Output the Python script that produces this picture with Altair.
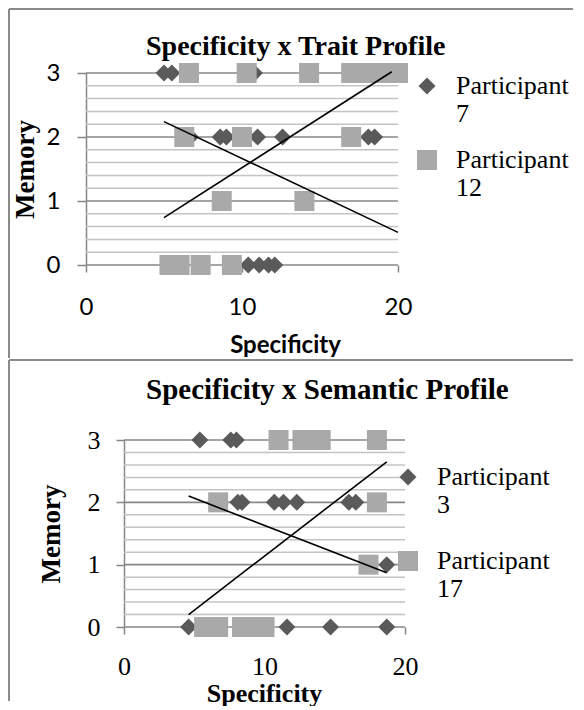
import altair as alt
import pandas as pd

DIAMOND = "#5a5a5a"
SQUARE = "#a9a9a9"
GRID_MAJOR = "#878787"
GRID_MINOR = "#c4c4c4"
BORDER = "#8a8a8a"

# ---------- Panel 1: Specificity x Trait Profile ----------
trait_series = ["Participant 7", "Participant 12"]
trait_p7_x = [5.0, 5.5, 10.8, 6.7, 8.6, 9.0, 11.0, 12.6, 18.1, 18.5, 10.4, 11.1, 11.7, 12.1]
trait_p7_y = [3, 3, 3, 2, 2, 2, 2, 2, 2, 2, 0, 0, 0, 0]
trait_p12_x = [6.6, 10.3, 14.3, 17.0, 18.0, 19.0, 20.0, 6.3, 10.0, 17.0, 8.7, 14.0, 5.35, 6.0, 7.35, 9.35]
trait_p12_y = [3, 3, 3, 3, 3, 3, 3, 2, 2, 2, 1, 1, 0, 0, 0, 0]
trait_trend_a_x = [5.0, 19.6]
trait_trend_a_y = [0.74, 3.02]
trait_trend_b_x = [5.0, 20.0]
trait_trend_b_y = [2.24, 0.51]

# ---------- Panel 2: Specificity x Semantic Profile ----------
sem_series = ["Participant 3", "Participant 17"]
sem_p3_x = [5.4, 7.6, 8.0, 8.1, 8.4, 10.7, 11.35, 12.3, 16.0, 16.5, 18.7, 4.6, 11.6, 14.7, 18.7]
sem_p3_y = [3, 3, 3, 2, 2, 2, 2, 2, 2, 2, 1, 0, 0, 0, 0]
sem_p17_x = [11.0, 12.7, 14.0, 18.0, 6.7, 18.0, 17.4, 5.7, 6.7, 8.4, 9.2, 10.0]
sem_p17_y = [3, 3, 3, 3, 2, 2, 1, 0, 0, 0, 0, 0]
sem_trend_a_x = [4.6, 18.7]
sem_trend_a_y = [0.2, 2.65]
sem_trend_b_x = [4.6, 18.7]
sem_trend_b_y = [2.1, 0.87]

x_ticks = [0, 10, 20]
y_ticks = [0, 1, 2, 3]
grid_major = [0, 1, 2, 3]
grid_minor = [0.2, 0.4, 0.6, 0.8, 1.2, 1.4, 1.6, 1.8, 2.2, 2.4, 2.6, 2.8]


def panel(title, series, ax, ay, bx, by, tax, tay, tbx, tby, cfg):
    pts = pd.DataFrame({
        "x": ax + bx,
        "y": ay + by,
        "series": [series[0]] * len(ax) + [series[1]] * len(bx),
    })
    trend = pd.DataFrame({
        "x": tax + tbx,
        "y": tay + tby,
        "line": ["a"] * len(tax) + ["b"] * len(tbx),
    })
    major = pd.DataFrame({"y": grid_major, "x0": 0, "x1": 20})
    minor = pd.DataFrame({"y": grid_minor, "x0": 0, "x1": 20})

    xs = alt.Scale(domain=cfg["xdom"], nice=False, zero=False)
    ys = alt.Scale(domain=[0, 3], nice=False, zero=False)
    xaxis = alt.Axis(
        values=x_ticks, domain=False, grid=False, ticks=True, tickSize=7,
        tickColor=GRID_MAJOR, tickWidth=1.5, labelFont=cfg["tickfont"],
        labelFontSize=cfg["ticksize"], labelColor="black", labelPadding=cfg["xlabpad"],
        labelFlush=False, format="d",
        title="Specificity", titleFont=cfg["xtitlefont"], titleFontSize=cfg["xtitlesize"],
        titleFontWeight="bold", titleColor="black", titleX=cfg["xtitleX"],
        titleY=cfg["xtitleY"], titleAlign="center", titleBaseline="alphabetic",
    )
    yaxis = alt.Axis(
        values=y_ticks, domain=True, domainColor=GRID_MAJOR, domainWidth=1.5,
        grid=False, ticks=True, tickSize=cfg["ytick"], tickColor=GRID_MAJOR,
        tickWidth=1.5, labelFont=cfg["tickfont"], labelFontSize=cfg["ticksize"],
        labelColor="black", labelPadding=cfg["ylabpad"], labelFlush=False, format="d",
        title="Memory", titleFont="Liberation Serif", titleFontSize=27,
        titleFontWeight="bold", titleColor="black", titleX=cfg["ytitleX"],
        titleY=cfg["ytitleY"], titleAngle=270, titleAlign="center",
        titleBaseline="middle", offset=cfg["yoffset"],
    )

    def X(f):
        return alt.X(f, scale=xs, axis=xaxis)

    def Y(f):
        return alt.Y(f, scale=ys, axis=yaxis)

    legend = alt.Legend(
        orient="none", legendX=cfg["legX"], legendY=cfg["legY"], title=None,
        labelFont="Liberation Serif", labelFontSize=26, labelColor="black",
        labelLimit=0, labelOffset=cfg["labOff"], rowPadding=cfg["rowPad"],
        labelExpr="['Participant', substring(datum.label, 12)]",
        symbolSize=256, symbolStrokeWidth=0, symbolOpacity=1, padding=0,
    )

    minor_l = alt.Chart(minor).mark_rule(color=GRID_MINOR, strokeWidth=1.5).encode(
        x=X("x0:Q"), x2="x1:Q", y=Y("y:Q"))
    major_l = alt.Chart(major).mark_rule(color=GRID_MAJOR, strokeWidth=1.6).encode(
        x=X("x0:Q"), x2="x1:Q", y=Y("y:Q"))
    pts_l = alt.Chart(pts).mark_point(filled=True, opacity=1, strokeWidth=0).encode(
        x=X("x:Q"), y=Y("y:Q"),
        color=alt.Color("series:N", scale=alt.Scale(domain=series, range=[DIAMOND, SQUARE]), legend=legend),
        shape=alt.Shape("series:N", scale=alt.Scale(domain=series, range=["diamond", "square"]), legend=legend),
        size=alt.Size("series:N", scale=alt.Scale(domain=series, range=[289, 400]), legend=None),
    )
    trend_l = alt.Chart(trend).mark_line(color="black", strokeWidth=1.6).encode(
        x=X("x:Q"), y=Y("y:Q"), detail="line:N")

    deco = []
    one = alt.Data(values=[{}])
    for (x1, x2, y1, y2, op) in cfg["borders"]:
        r = alt.Chart(one).mark_rule(color=BORDER, strokeWidth=2, opacity=op)
        if x2 is None:
            r = r.encode(x=alt.value(x1), y=alt.value(y1), y2=alt.value(y2))
        else:
            r = r.encode(x=alt.value(x1), x2=alt.value(x2), y=alt.value(y1))
        deco.append(r)

    return alt.layer(minor_l, major_l, pts_l, trend_l, *deco).properties(
        width=cfg["w"], height=cfg["h"],
        title=alt.TitleParams(
            title, font="Liberation Serif", fontSize=cfg["tsize"], fontWeight="bold",
            color="black", anchor="start", frame="group", dx=60,
            offset=cfg["toff"], baseline="alphabetic",
        ),
    )


top_cfg = dict(
    xdom=[0, 20], w=312, h=192, tickfont="Lato", ticksize=24, xlabpad=23,
    xtitlefont="Lato", xtitlesize=24, xtitleX=199, xtitleY=87,
    ytick=9, ylabpad=17, ytitleX=-61, ytitleY=96, yoffset=0,
    legX=328, legY=0, labOff=16, rowPad=20, toff=-75, tsize=28,
    borders=[(-77, None, -64, 285, 1), (-77, 487, -64, None, 1), (-77, 487, 284, None, 0)],
)
bot_cfg = dict(
    xdom=[-2.705, 20], w=319, h=187, tickfont="Liberation Serif", ticksize=26, xlabpad=19,
    xtitlefont="Liberation Serif", xtitlesize=26, xtitleX=178, xtitleY=74,
    ytick=8, ylabpad=16, ytitleX=-73, ytitleY=93.5, yoffset=-38,
    legX=309, legY=24, labOff=16, rowPad=30, toff=-69, tsize=29,
    borders=[(-77, None, -80, 261, 1), (-77, 487, -80, None, 1)],
)

top = panel("Specificity x Trait Profile", trait_series, trait_p7_x, trait_p7_y,
            trait_p12_x, trait_p12_y, trait_trend_a_x, trait_trend_a_y,
            trait_trend_b_x, trait_trend_b_y, top_cfg)
bottom = panel("Specificity x Semantic Profile", sem_series, sem_p3_x, sem_p3_y,
               sem_p17_x, sem_p17_y, sem_trend_a_x, sem_trend_a_y,
               sem_trend_b_x, sem_trend_b_y, bot_cfg)

chart = alt.vconcat(top, bottom, spacing=0).resolve_scale(
    x="independent", y="independent", color="independent",
    shape="independent", size="independent",
).resolve_legend(color="independent", shape="independent", size="independent").properties(
    padding=0,
).configure_view(stroke=None)

chart.save("out.html", embed_options={"renderer": "svg", "actions": False})
